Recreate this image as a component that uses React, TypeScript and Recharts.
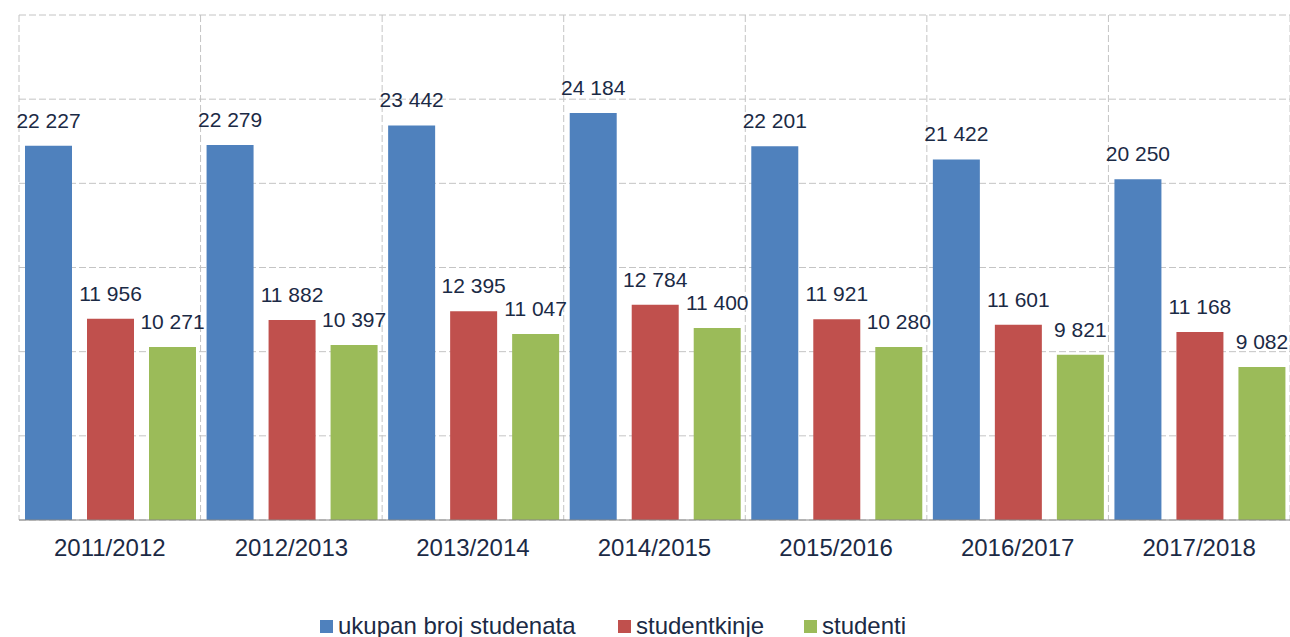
import { Bar, BarChart, CartesianGrid, LabelList, Legend, XAxis, YAxis } from "recharts";

const years = ["2011/2012", "2012/2013", "2013/2014", "2014/2015", "2015/2016", "2016/2017", "2017/2018"];
const ukupno = [22227, 22279, 23442, 24184, 22201, 21422, 20250];
const studentkinje = [11956, 11882, 12395, 12784, 11921, 11601, 11168];
const studenti = [10271, 10397, 11047, 11400, 10280, 9821, 9082];
const yTicks = [0, 5000, 10000, 15000, 20000, 25000, 30000];

const SERIES = [
  { key: "ukupno", name: "ukupan broj studenata", color: "#4f81bd" },
  { key: "studentkinje", name: "studentkinje", color: "#c0504d" },
  { key: "studenti", name: "studenti", color: "#9bbb59" },
];

const TEXT = "#1b2a45";
const FONT = "'Liberation Sans', Arial, sans-serif";

const data = years.map((year, i) => ({
  year,
  ukupno: ukupno[i],
  studentkinje: studentkinje[i],
  studenti: studenti[i],
}));

const fmt = (v: number) => v.toLocaleString("en-US").replace(/,/g, " ");

// value label above a bar, no wrapping
function ValueLabel(props: any) {
  const { x, y, width, value } = props;
  return (
    <text
      x={Number(x) + Number(width) / 2}
      y={Number(y) - 18}
      textAnchor="middle"
      fill={TEXT}
      fontSize={21}
      fontFamily={FONT}
    >
      {fmt(Number(value))}
    </text>
  );
}

function LegendContent() {
  const xs = [320, 618, 804];
  return (
    <div style={{ position: "relative", height: 30, width: 1290 }}>
      {SERIES.map((s, i) => (
        <div
          key={s.key}
          style={{
            position: "absolute",
            left: xs[i],
            top: 0,
            height: 30,
            display: "flex",
            alignItems: "center",
            fontFamily: FONT,
            fontSize: 24,
            color: TEXT,
            whiteSpace: "nowrap",
          }}
        >
          <span style={{ width: 13, height: 13, background: s.color, marginRight: 5, display: "inline-block" }} />
          {s.name}
        </div>
      ))}
    </div>
  );
}

export default function App() {
  return (
    <div style={{ position: "absolute", left: 0, top: 0, background: "#fff" }}>
      <BarChart
        width={1290}
        height={637}
        data={data}
        margin={{ top: 15, right: 0, left: 19, bottom: 57 }}
        barCategoryGap={6}
        barGap={15}
      >
        <CartesianGrid
          stroke="#c4c4c4"
          strokeDasharray="7 3"
          verticalCoordinatesGenerator={({ offset }: any) =>
            years.map((_, i) => offset.left + (i * offset.width) / years.length).concat(offset.left + offset.width)
          }
        />
        <YAxis hide domain={[0, 30000]} ticks={yTicks} />
        <XAxis
          dataKey="year"
          axisLine={{ stroke: "#868686" }}
          tickLine={false}
          tickSize={0}
          tickMargin={19}
          tick={{ fill: TEXT, fontSize: 24, fontFamily: FONT }}
          interval={0}
        />
        <Legend
          verticalAlign="bottom"
          align="left"
          height={30}
          wrapperStyle={{ left: 0, bottom: -4 }}
          content={() => <LegendContent />}
        />
        {SERIES.map((s) => (
          <Bar key={s.key} dataKey={s.key} name={s.name} fill={s.color} isAnimationActive={false}>
            <LabelList dataKey={s.key} content={<ValueLabel />} />
          </Bar>
        ))}
      </BarChart>
    </div>
  );
}
